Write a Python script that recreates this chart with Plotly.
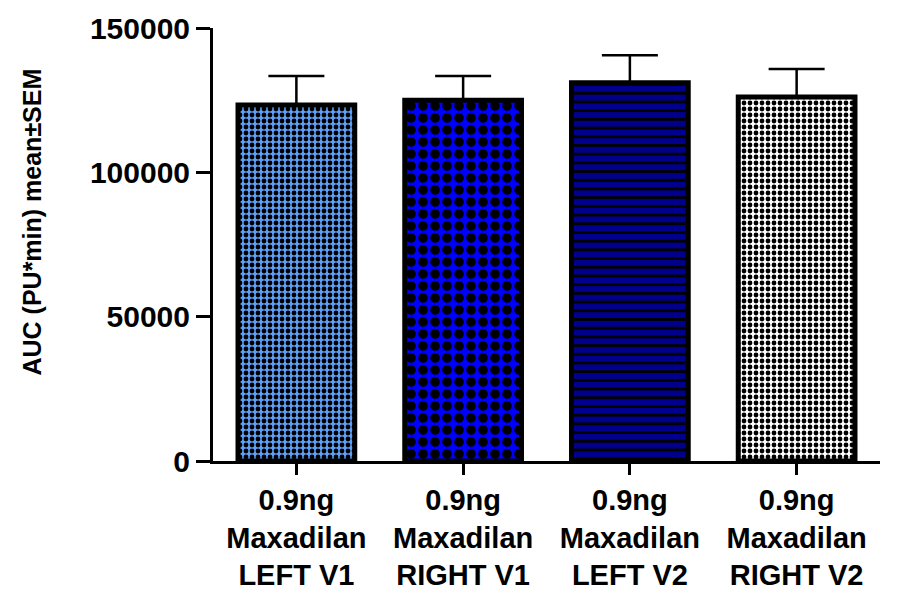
import plotly.graph_objects as go

categories = ["0.9ng<br>Maxadilan<br>LEFT V1", "0.9ng<br>Maxadilan<br>RIGHT V1",
              "0.9ng<br>Maxadilan<br>LEFT V2", "0.9ng<br>Maxadilan<br>RIGHT V2"]
means = [123300, 125000, 131000, 126100]
sems = [10100, 8400, 9600, 9700]
y_ticks = [0, 50000, 100000, 150000]
y_tick_labels = ["0", "50000", "100000", "150000"]
y_title = "AUC (PU*min) mean±SEM"

fill_colors = ["#5CA0F8", "#0000FF", "#00008C", "#FFFFFF"]
pattern_shapes = [".", ".", "-", "."]
pattern_sizes = [6, 12, 8.7, 6]
pattern_solidity = [0.5, 0.5, 0.32, 0.5]

FONT = "Liberation Sans, Arial, sans-serif"

fig = go.Figure()
for i, cat in enumerate(categories):
    fig.add_trace(go.Bar(
        x=[i],
        y=[means[i]],
        width=0.7,
        marker=dict(
            color=fill_colors[i],
            line=dict(color="black", width=5),
            pattern=dict(
                shape=pattern_shapes[i],
                size=pattern_sizes[i],
                solidity=pattern_solidity[i],
                fgcolor="black",
                fgopacity=1,
                fillmode="overlay",
            ),
        ),
        error_y=dict(
            type="data",
            symmetric=False,
            array=[sems[i]],
            arrayminus=[0],
            color="black",
            thickness=2.5,
            width=28,
        ),
        showlegend=False,
    ))

fig.add_annotation(
    text=y_title,
    xref="paper", yref="paper",
    x=-0.2714, y=0.553,
    xanchor="center", yanchor="middle",
    textangle=-90,
    showarrow=False,
    font=dict(family=FONT, size=25, color="black", weight="bold"),
)

fig.update_layout(
    width=904,
    height=582,
    barmode="overlay",
    margin=dict(l=205, r=32, t=20, b=129),
    paper_bgcolor="white",
    plot_bgcolor="white",
    font=dict(family=FONT, color="black"),
    xaxis=dict(
        range=[-0.5, 3.5],
        tickmode="array",
        tickvals=list(range(len(categories))),
        ticktext=categories,
        showline=True,
        linecolor="black",
        linewidth=3,
        ticks="outside",
        ticklen=11,
        tickwidth=3,
        tickcolor="black",
        showgrid=False,
        zeroline=False,
        automargin=False,
        tickfont=dict(family=FONT, size=29, color="black", weight="bold"),
    ),
    yaxis=dict(
        range=[0, 150000],
        tickmode="array",
        tickvals=y_ticks,
        ticktext=y_tick_labels,
        showline=True,
        linecolor="black",
        linewidth=3,
        ticks="outside",
        ticklen=14,
        tickwidth=3,
        tickcolor="black",
        showgrid=False,
        zeroline=False,
        automargin=False,
        tickfont=dict(family=FONT, size=30, color="black", weight="bold"),
    ),
)

fig.write_html("out.html")
